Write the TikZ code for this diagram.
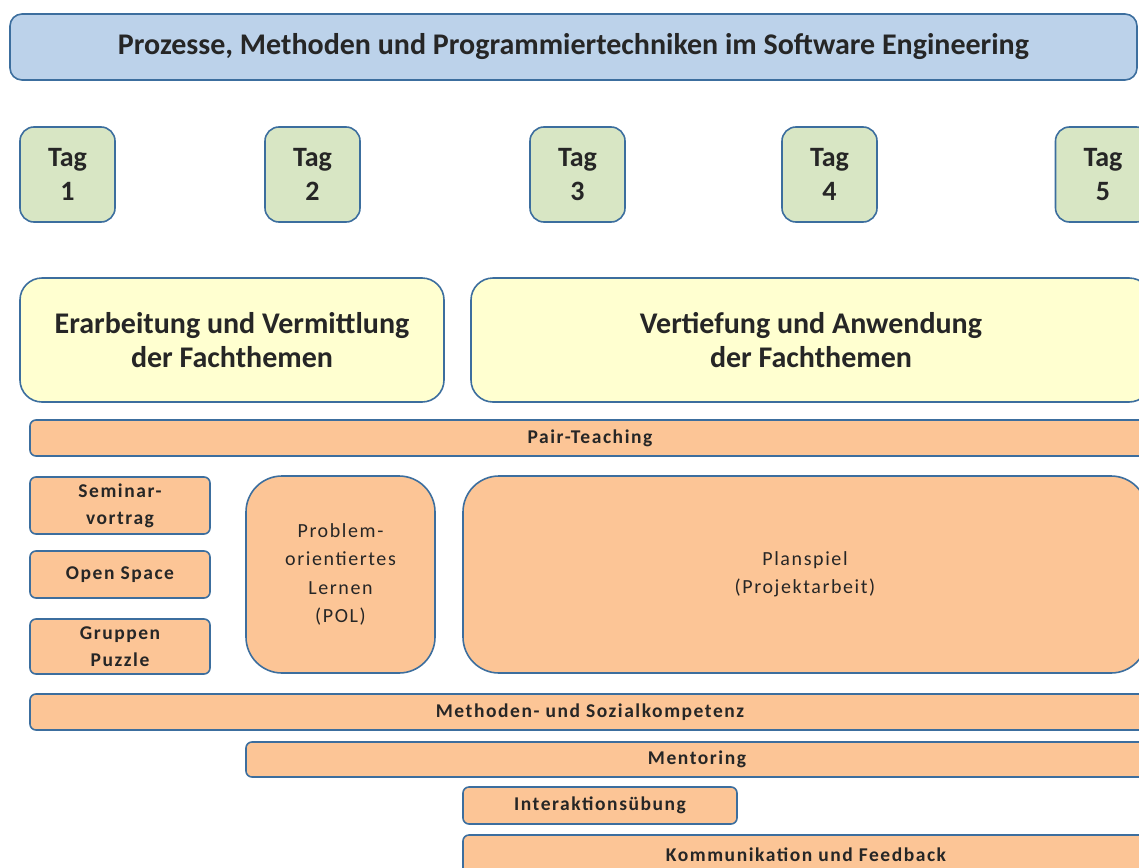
\documentclass[tikz,border=0pt]{standalone}
\usepackage{fontspec}
\setmainfont{Carlito}
\newfontfamily\lsfont[LetterSpace=8]{Carlito}
\definecolor{bordc}{HTML}{3C6E9E}
\definecolor{bluef}{HTML}{BCD2EA}
\definecolor{greenf}{HTML}{D8E6C4}
\definecolor{yellowf}{HTML}{FFFFD0}
\definecolor{orangef}{HTML}{FCC596}
\tikzset{
  box/.style={draw=bordc, line width=1.6pt, rounded corners=#1, inner sep=0pt, align=center, text=black!85},
  box/.default=8pt,
  small/.style={font=\lsfont\bfseries\fontsize{19.5}{27}\selectfont},
  smallr/.style={font=\lsfont\fontsize{20}{28.5}\selectfont},
}
\begin{document}
\begin{tikzpicture}[x=1pt,y=-1pt]
\useasboundingbox (0,0) rectangle (1139,867);
\clip (0,0) rectangle (1139,867);
% title
\node[box=12pt, fill=bluef, minimum width=1127, minimum height=66, font=\bfseries\fontsize{30}{34}\selectfont] (title) at (573.5,47) {Prozesse, Methoden und Programmiertechniken im Software Engineering};
% days
\tikzset{tag/.style={box=14pt, fill=greenf, minimum width=95, minimum height=95, font=\bfseries\fontsize{28}{34}\selectfont}}
\node[tag] (t1) at (67.5,174.5) {Tag\\1};
\node[tag] (t2) at (312.5,174.5) {Tag\\2};
\node[tag] (t3) at (577.5,174.5) {Tag\\3};
\node[tag] (t4) at (829.5,174.5) {Tag\\4};
\node[tag] (t5) at (1103,174.5) {Tag\\5};
% phases
\tikzset{phase/.style={box=22pt, fill=yellowf, minimum height=124, font=\bfseries\fontsize{30}{34}\selectfont}}
\node[phase, minimum width=424] (p1) at (232,340) {Erarbeitung und Vermittlung\\der Fachthemen};
\node[phase, minimum width=680] (p2) at (811,340) {Vertiefung und Anwendung\\der Fachthemen};
% bars
\tikzset{bar/.style={box=6pt, fill=orangef, small}}
\node[bar, minimum width=1120, minimum height=36] (pair) at (590,438) {Pair-Teaching};
\node[bar, minimum width=180, minimum height=57] (sem) at (120,505.5) {Seminar-\\vortrag};
\node[bar, minimum width=180, minimum height=47] (open) at (120,574.5) {Open Space};
\node[bar, minimum width=180, minimum height=55] (puz) at (120,646.5) {Gruppen\\Puzzle};
\node[box=36pt, fill=orangef, smallr, minimum width=189, minimum height=197] (pol) at (340.5,574.5) {Problem-\\orientiertes\\Lernen\\(POL)};
\node[box=36pt, fill=orangef, smallr, minimum width=684, minimum height=197] (plan) at (805,574.5) {Planspiel\\(Projektarbeit)};
\node[bar, minimum width=1120, minimum height=36] (meth) at (590,712) {Methoden- und Sozialkompetenz};
\node[bar, minimum width=902, minimum height=35] (ment) at (697,759.5) {Mentoring};
\node[bar, minimum width=274, minimum height=37] (inter) at (600,805.5) {Interaktionsübung};
\node[bar, minimum width=686, minimum height=40] (komm) at (806,855) {Kommunikation und Feedback};
\end{tikzpicture}
\end{document}
